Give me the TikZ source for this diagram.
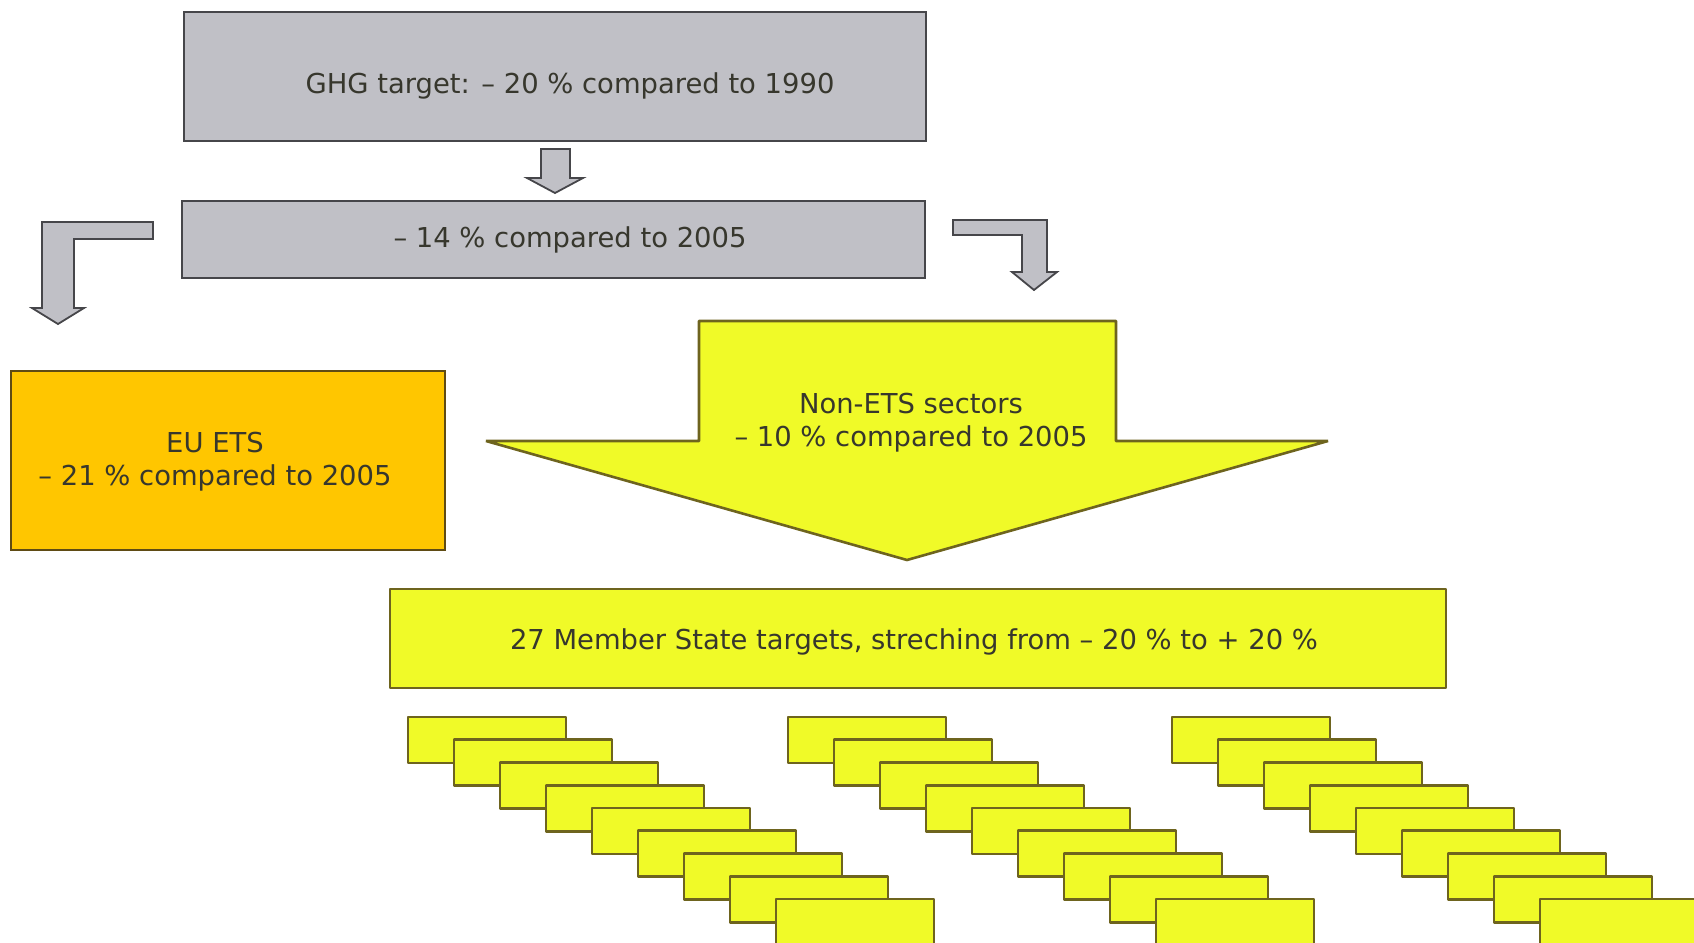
\documentclass[tikz,border=0pt]{standalone}
\usepackage{fontspec}
\setmainfont{DejaVu Sans}
\definecolor{greyfill}{RGB}{192,192,198}
\definecolor{greyline}{RGB}{70,70,74}
\definecolor{yellowfill}{RGB}{240,250,40}
\definecolor{yellowline}{RGB}{110,100,30}
\definecolor{orangefill}{RGB}{255,198,0}
\definecolor{orangeline}{RGB}{95,75,20}
\definecolor{textcol}{RGB}{55,55,45}

\begin{document}
\begin{tikzpicture}[x=0.5pt, y=-0.5pt, align=center, text=textcol, font=\fontsize{13.7}{16.5}\selectfont,
	greybox/.style={draw=greyline, fill=greyfill, line width=1.3pt},
	yellowbox/.style={draw=yellowline, fill=yellowfill, line width=1.3pt, line join=bevel},
	orangebox/.style={draw=orangeline, fill=orangefill, line width=1.3pt},
	greyarrow/.style={draw=greyline, fill=greyfill, line width=0.9pt}]
		\useasboundingbox (0,0) rectangle (1694,943);
		\clip (0,0) rectangle (1694,943);
		\draw[greybox] (184,12) rectangle (926,141);
		\node[anchor=base] (ghg) at (570,93) {GHG target: – 20 \% compared to 1990};
		\draw[greyarrow] (541,149) -- (570,149) -- (570,178) -- (583,178) -- (555,193) -- (527,178) -- (541,178) -- cycle;
		\draw[greybox] (182,201) rectangle (925,278);
		\node[anchor=base] (minus14) at (570,247) {– 14 \% compared to 2005};
		\draw[greyarrow] (153,222) -- (153,239) -- (74,239) -- (74,308) -- (84,308) -- (58,324) -- (32,308) -- (42,308) -- (42,222) -- cycle;
		\draw[greyarrow] (953,220) -- (1047,220) -- (1047,272) -- (1057,272) -- (1034,290) -- (1012,272) -- (1022,272) -- (1022,235) -- (953,235) -- cycle;
		
		\draw[orangebox] (11,371) rectangle (445,550);
		\node (ets) at (215,462) {EU ETS\\– 21 \% compared to 2005};
		\draw[yellowbox] (699,321) -- (1116,321) -- (1116,441) -- (1328,441) -- (907,560) -- (486,441) -- (699,441) -- cycle;
		\node (nonets) at (911,423) {Non-ETS sectors\\– 10 \% compared to 2005};
		\draw[yellowbox] (390,589) rectangle (1446,688);
		\node[anchor=base] (ms) at (914,649) {27 Member State targets, streching from – 20 \% to + 20 \%};
		
		\foreach \gx in {408,788,1172}
			\foreach \i in {0,...,8}
				\draw[yellowbox] (\gx+46*\i,717+22.75*\i) rectangle +(158,46);
	\end{tikzpicture}
\end{document}
